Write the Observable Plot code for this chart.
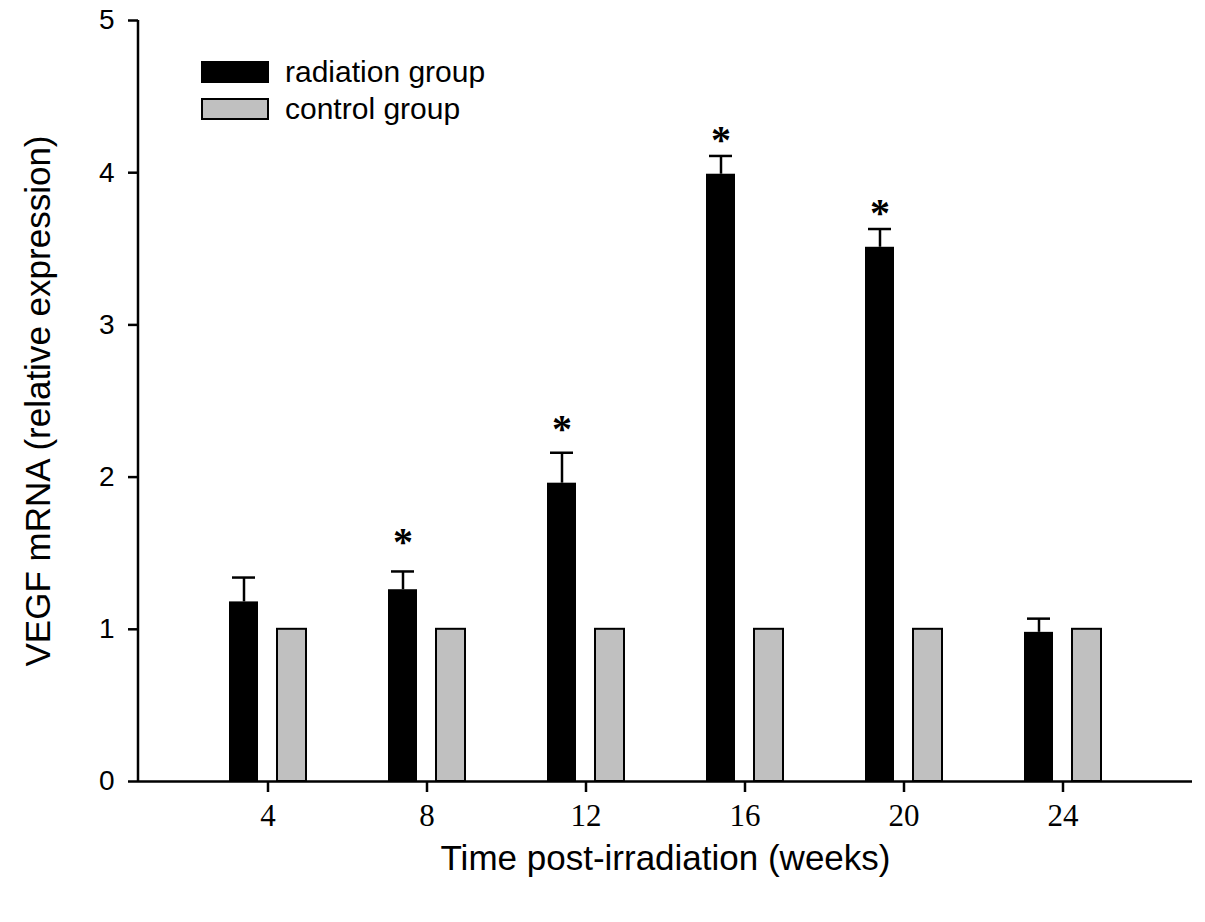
<!DOCTYPE html>
<html>
<head>
<meta charset="utf-8">
<script src="https://cdn.jsdelivr.net/npm/d3@7"></script>
<script src="https://cdn.jsdelivr.net/npm/@observablehq/plot@0.6"></script>
<style>
  body { margin: 0; background: #fff; }
  #chart { position: relative; width: 1205px; height: 922px; }
  #chart g[aria-label="y-axis tick label"] text { font: 28px "Liberation Sans", Arial, sans-serif; }
  #chart g[aria-label="x-axis tick label"] text { font: 31px "Liberation Serif", "Times New Roman", serif; }
  #legend { position: absolute; left: 201px; top: 61px; font: 30px "Liberation Sans", Arial, sans-serif; color: #000; }
  .row { display: flex; align-items: center; height: 22px; margin-bottom: 15px; }
  .sw { width: 68px; height: 22px; margin-right: 16px; box-sizing: border-box; border: 2px solid #000; }
</style>
</head>
<body>
<div id="chart"></div>
<script>
let weeks = [4, 8, 12, 16, 20, 24];
let radiation = [1.18, 1.26, 1.96, 3.99, 3.51, 0.98];
let radiationSem = [0.16, 0.12, 0.20, 0.12, 0.12, 0.09];
let control = [1, 1, 1, 1, 1, 1];
// asterisks over the significant weeks, positions
let starWeeks = [8, 12, 16, 20];
let starY = [1.62, 2.36, 4.26, 3.78];

let groups = ["radiation group", "control group"];
let groupColors = ["#000000", "#c0c0c0"];

let rows = weeks.map((w, i) => ({
  week: w,
  rad: radiation[i],
  radTop: radiation[i] + radiationSem[i],
  ctl: control[i]
}));
let stars = starWeeks.map((w, i) => ({week: w, y: starY[i]}));

// left axis line along the frame
function yAxisLine(index, scales, values, dims) {
  let g = d3.create("svg:g");
  g.append("line")
    .attr("x1", dims.marginLeft).attr("x2", dims.marginLeft)
    .attr("y1", dims.marginTop).attr("y2", dims.height - dims.marginBottom)
    .attr("stroke", "black").attr("stroke-width", 2.5);
  return g.node();
}

let plot = Plot.plot({
  width: 1205,
  height: 922,
  marginLeft: 138,
  marginRight: 13,
  marginTop: 20,
  marginBottom: 141,
  x: {type: "band", domain: weeks, paddingInner: 0, paddingOuter: 0.3},
  y: {domain: [0, 5]},
  style: {background: "white", color: "black"},
  marks: [
    Plot.barY(rows, {x: "week", y: "rad", fill: groupColors[0], dx: -24, insetLeft: 65, insetRight: 65}),
    Plot.barY(rows, {x: "week", y: "ctl", fill: groupColors[1], stroke: "black", strokeWidth: 2, dx: 24, insetLeft: 65, insetRight: 65}),
    Plot.ruleX(rows, {x: "week", y1: "rad", y2: "radTop", dx: -24, strokeWidth: 2.5}),
    Plot.tickY(rows, {x: "week", y: "radTop", dx: -24, insetLeft: 68, insetRight: 68, strokeWidth: 2.5}),
    Plot.text(stars, {x: "week", y: "y", text: () => "*", dx: -24, dy: 7, fontSize: 40,
      fontFamily: "'Liberation Serif', 'Times New Roman', serif", fontWeight: "bold"}),
    Plot.ruleY([0], {strokeWidth: 2.5}),
    yAxisLine,
    Plot.axisY({ticks: [0, 1, 2, 3, 4, 5], tickFormat: d => String(d), tickSize: 10, tickPadding: 14,
      label: null, strokeWidth: 2.5}),
    Plot.axisX({tickSize: 11, tickPadding: 11, label: null, strokeWidth: 2.5}),
    Plot.text(["VEGF mRNA (relative expression)"], {frameAnchor: "left", dx: -100, rotate: -90,
      textAnchor: "middle", lineAnchor: "middle",
      fontSize: 35, fontFamily: "'Liberation Sans', Arial, sans-serif"}),
    Plot.text(["Time post-irradiation (weeks)"], {frameAnchor: "bottom", dy: 77,
      textAnchor: "middle", lineAnchor: "middle",
      fontSize: 35, fontFamily: "'Liberation Sans', Arial, sans-serif"})
  ]
});

let chart = document.getElementById("chart");
chart.append(plot);

let legend = d3.select(chart).append("div").attr("id", "legend");
groups.forEach((g, i) => {
  let row = legend.append("div").attr("class", "row");
  row.append("div").attr("class", "sw")
    .style("background", groupColors[i])
    .style("border-color", "#000");
  row.append("span").text(g);
});
</script>
</body>
</html>
